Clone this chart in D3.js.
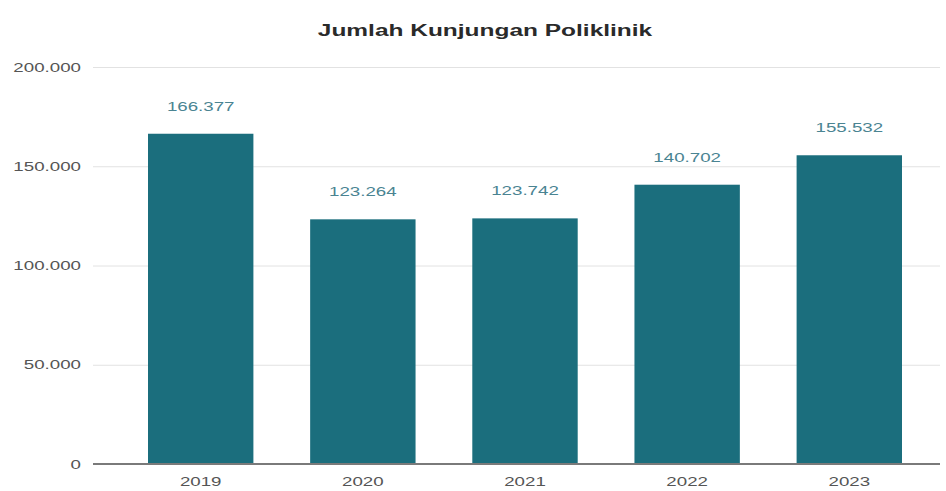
<!DOCTYPE html>
<html>
<head>
<meta charset="utf-8">
<script src="https://cdn.jsdelivr.net/npm/d3@7"></script>
<style>
  body { margin: 0; background: #fff; }
  svg { display: block; font-family: "Liberation Sans", Arial, sans-serif; }
</style>
</head>
<body>
<svg id="chart" width="946" height="491"></svg>
<script>
const title = "Jumlah Kunjungan Poliklinik";
const categories = ["2019", "2020", "2021", "2022", "2023"];
const values = [166377, 123264, 123742, 140702, 155532];
const yTicks = [0, 50000, 100000, 150000, 200000];

const svg = d3.select("#chart");
const plot = { left: 93, right: 940, top: 67, bottom: 464 };
const SX = 1.44; // horizontal text stretch seen in the reference

const fmt = d3.formatLocale({ decimal: ",", thousands: ".", grouping: [3], currency: ["Rp", ""] }).format(",d");

const x = d3.scaleBand().domain(categories).range([148, 902]).paddingInner(0.35).paddingOuter(0);
const y = d3.scaleLinear().domain([0, 200000]).range([plot.bottom, plot.top]);

// grid
svg.append("g").selectAll("line").data(yTicks.filter(d => d > 0)).join("line")
  .attr("x1", plot.left).attr("x2", plot.right)
  .attr("y1", d => y(d) + 0.5).attr("y2", d => y(d) + 0.5)
  .attr("stroke", "#e2e2e2").attr("stroke-width", 1);

// y axis labels
const yAxis = d3.axisLeft(y).tickValues(yTicks).tickSize(0).tickPadding(0).tickFormat(d => fmt(d));
const yg = svg.append("g").attr("transform", `translate(${plot.left - 12},0)`).call(yAxis);
yg.select(".domain").remove();
yg.selectAll("text").attr("fill", "#555").style("font-size", "13px").style("font-family", "inherit")
  .attr("transform", `scale(${SX},1)`);

// bars
svg.append("g").selectAll("rect").data(values).join("rect")
  .attr("x", (d, i) => x(categories[i]))
  .attr("width", x.bandwidth())
  .attr("y", d => y(d))
  .attr("height", d => y(0) - y(d))
  .attr("fill", "#1b6e7d");

// value labels
svg.append("g").selectAll("text").data(values).join("text")
  .attr("transform", (d, i) => `translate(${x(categories[i]) + x.bandwidth() / 2},${y(d) - 23}) scale(${SX},1)`)
  .attr("text-anchor", "middle")
  .attr("fill", "#4a8492")
  .style("font-size", "13px")
  .text(d => fmt(d));

// baseline
svg.append("line")
  .attr("x1", plot.left).attr("x2", plot.right)
  .attr("y1", y(0)).attr("y2", y(0))
  .attr("stroke", "#7a7a7a").attr("stroke-width", 2);

// x axis
const xAxis = d3.axisBottom(x).tickSize(0).tickPadding(0);
const xg = svg.append("g").attr("transform", `translate(0,${y(0) + 13})`).call(xAxis);
xg.select(".domain").remove();
xg.selectAll("text").attr("fill", "#555").style("font-size", "13px").style("font-family", "inherit")
  .attr("transform", `scale(${SX},1)`);

// title
svg.append("text")
  .attr("transform", `translate(485,36) scale(${SX},1)`)
  .attr("text-anchor", "middle")
  .attr("fill", "#2a2a2a")
  .style("font-size", "17px")
  .style("font-weight", "bold")
  .text(title);
</script>
</body>
</html>
